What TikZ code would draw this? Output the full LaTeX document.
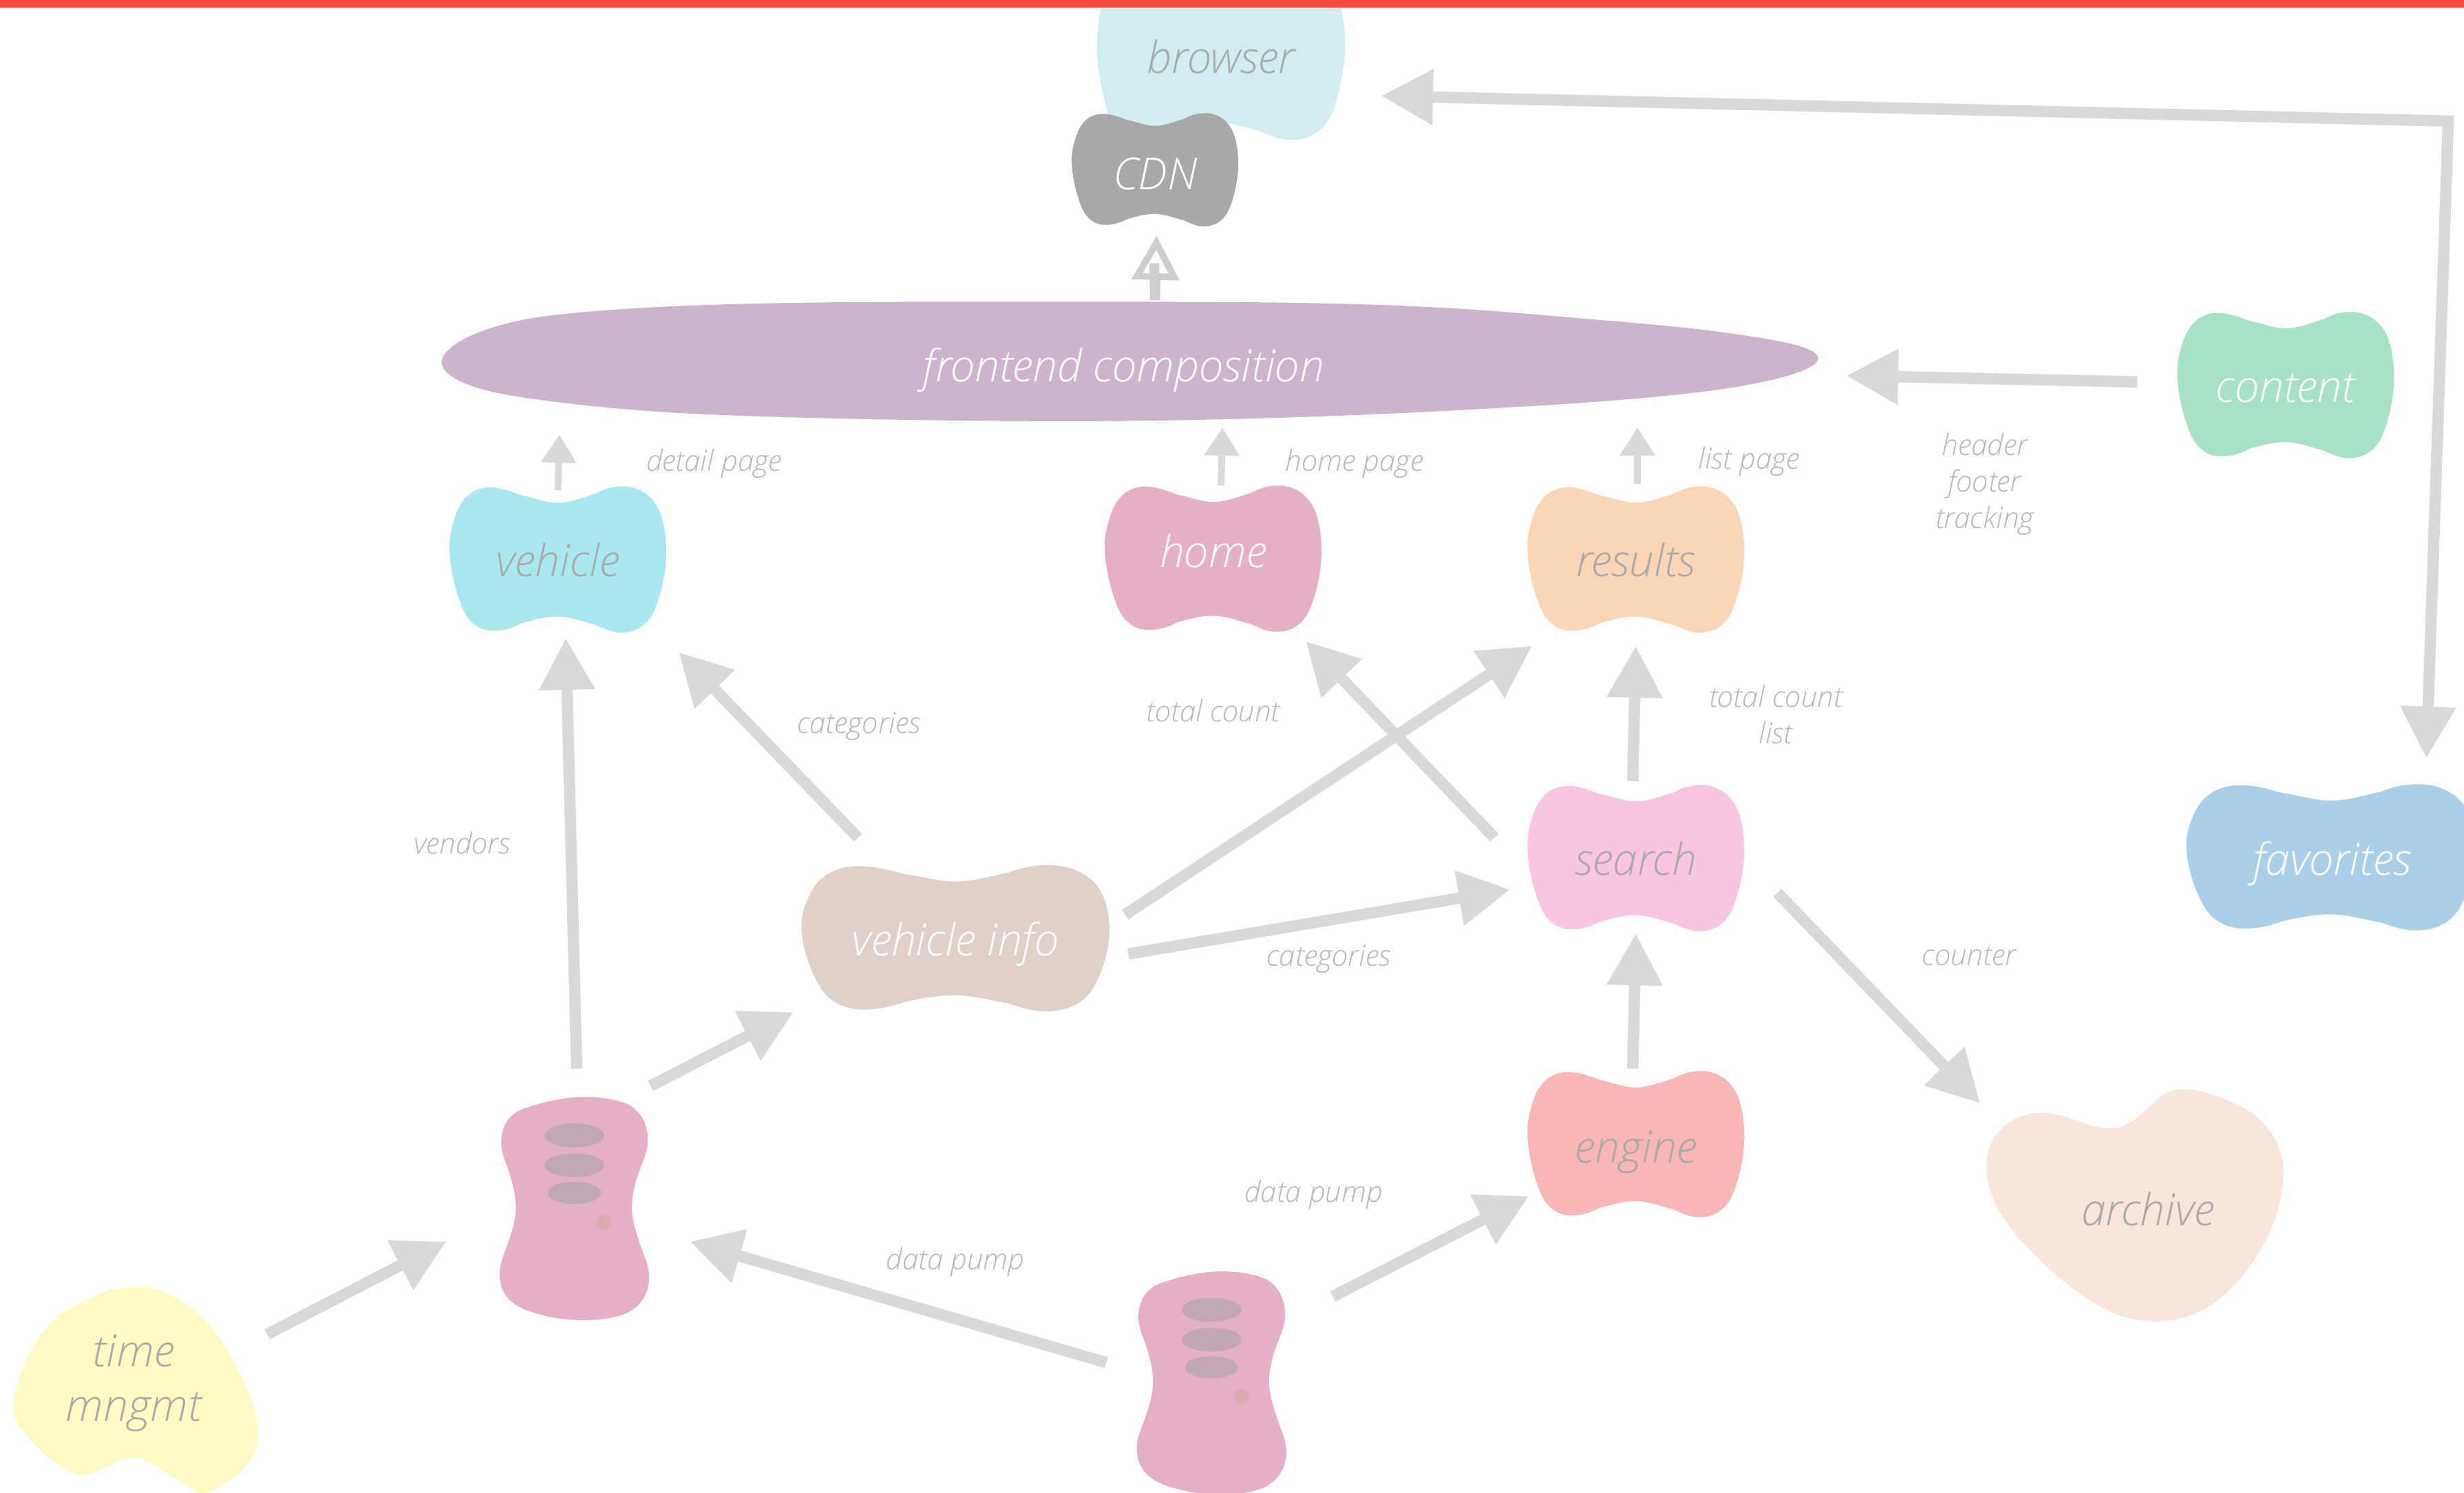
\documentclass[tikz,border=0pt]{standalone}
\usepackage{fontspec}
\usepackage{tikz}
\usetikzlibrary{arrows.meta}
\newfontfamily\thinfont{Open Sans Light Italic}
\definecolor{barred}{HTML}{F44B3E}
\definecolor{arrowgrey}{HTML}{D9D9D9}
\definecolor{sketchgrey}{HTML}{CFCDCD}
\definecolor{labelgrey}{HTML}{B8B8B8}
\definecolor{textgrey}{HTML}{A9A9A9}
\definecolor{browsercol}{HTML}{D2EDF0}
\definecolor{cdncol}{HTML}{A8A8A8}
\definecolor{frontcol}{HTML}{CDB4CD}
\definecolor{vehiclecol}{HTML}{A9E8EF}
\definecolor{homecol}{HTML}{E5AFC5}
\definecolor{resultscol}{HTML}{FAD6B6}
\definecolor{searchcol}{HTML}{F8C6DF}
\definecolor{enginecol}{HTML}{F9B6B6}
\definecolor{contentcol}{HTML}{A8E2C5}
\definecolor{favcol}{HTML}{AACFE9}
\definecolor{infocol}{HTML}{DFD0CA}
\definecolor{archivecol}{HTML}{F8E6DC}
\definecolor{timecol}{HTML}{FDFAC3}
\definecolor{servercol}{HTML}{E5B0C7}
\definecolor{slotcol}{HTML}{C2A8B7}
\definecolor{ledcol}{HTML}{D9ACB0}
\tikzstyle{big arrow}=[draw=arrowgrey,line width=10.3pt,-{Triangle[length=46.8pt,width=48pt]}]
\tikzstyle{both arrow}=[big arrow,{Triangle[length=46.8pt,width=48pt]}-{Triangle[length=46.8pt,width=48pt]}]
\tikzstyle{small arrow}=[draw=arrowgrey,line width=6.2pt,-{Triangle[length=25.5pt,width=30.6pt]}]
\tikzstyle{sketch arrow}=[draw=sketchgrey,line width=9pt,-{Triangle[open,length=40pt,width=42pt,line width=6pt]}]
\tikzstyle{sketch line}=[draw=sketchgrey,line width=9pt]
\tikzstyle{blob}=[font=\thinfont\fontsize{40}{49.6}\selectfont,inner sep=0pt,anchor=base]
\tikzstyle{annot}=[font=\thinfont\fontsize{26.3}{33}\selectfont,text=labelgrey,align=center,inner sep=0pt]
\def\bonepath{(0,-.776) .. controls (.12,-.776) and (.25,-.86) .. (.35,-.90)
    .. controls (.42,-.96) and (.5,-1) .. (.605,-1)
    .. controls (.78,-1) and (.89,-.83) .. (.94,-.656)
    .. controls (.98,-.5) and (1,-.3) .. (1,-.12)
    .. controls (1,.15) and (.96,.42) .. (.91,.62)
    .. controls (.86,.84) and (.76,1) .. (.584,1)
    .. controls (.49,1) and (.42,.94) .. (.34,.89)
    .. controls (.22,.85) and (.12,.78) .. (-.01,.78)
    .. controls (-.12,.78) and (-.23,.83) .. (-.33,.87)
    .. controls (-.41,.93) and (-.49,.975) .. (-.594,.975)
    .. controls (-.76,.975) and (-.85,.8) .. (-.895,.606)
    .. controls (-.95,.4) and (-1,.1) .. (-1,-.18)
    .. controls (-1,-.35) and (-.97,-.5) .. (-.936,-.64)
    .. controls (-.88,-.85) and (-.78,-.987) .. (-.626,-.987)
    .. controls (-.52,-.987) and (-.43,-.93) .. (-.33,-.877)
    .. controls (-.22,-.85) and (-.12,-.776) .. (0,-.776) -- cycle}
\def\serverpath{(.14,-1) .. controls (.35,-1) and (.55,-.98) .. (.72,-.934)
    .. controls (.88,-.88) and (.985,-.76) .. (.985,-.615)
    .. controls (.985,-.52) and (.93,-.44) .. (.877,-.348)
    .. controls (.82,-.25) and (.77,-.12) .. (.77,-.01)
    .. controls (.77,.1) and (.83,.22) .. (.89,.34)
    .. controls (.95,.45) and (1,.52) .. (1,.62)
    .. controls (1,.78) and (.86,.89) .. (.69,.94)
    .. controls (.5,.99) and (.3,1) .. (.11,1)
    .. controls (-.15,1) and (-.4,.97) .. (-.656,.907)
    .. controls (-.86,.85) and (-1,.76) .. (-1,.59)
    .. controls (-1,.49) and (-.95,.42) .. (-.90,.33)
    .. controls (-.84,.22) and (-.785,.1) .. (-.785,-.01)
    .. controls (-.785,-.13) and (-.84,-.26) .. (-.896,-.37)
    .. controls (-.95,-.46) and (-.98,-.52) .. (-.98,-.595)
    .. controls (-.98,-.75) and (-.86,-.85) .. (-.687,-.893)
    .. controls (-.45,-.95) and (-.15,-1) .. (.14,-1) -- cycle}
\begin{document}
\begin{tikzpicture}[x=.05cm,y=-.05cm]
    \clip (0,0) rectangle (1568,949.8);

    % Draw the browser behind the CDN
    \fill[browsercol] (702,0) .. controls (699,10) and (698,20) .. (698,32)
        .. controls (699,50) and (703,65) .. (708,84) -- (770,76)
        .. controls (785,79) and (795,81) .. (803,84)
        .. controls (810,87) and (815,89) .. (823,89)
        .. controls (836,89) and (845,80) .. (849,69)
        .. controls (853,55) and (856,42) .. (856,28)
        .. controls (856,18) and (854,8) .. (852,0) -- cycle;
    \node[blob,text=textgrey] (browser) at (777,46.7) {browser};

    % Draw the frontend composition
    \fill[frontcol] (281,230) .. controls (283,218) and (310,207) .. (341,202)
        .. controls (420,191) and (560,192) .. (680,192)
        .. controls (800,192) and (880,192) .. (964,199)
        .. controls (1010,203) and (1050,206) .. (1081,209.5)
        .. controls (1125,215) and (1157,220) .. (1157,228)
        .. controls (1157,236) and (1125,243) .. (1100,247)
        .. controls (1060,253) and (1000,257) .. (964,259)
        .. controls (880,264) and (780,268) .. (680,268)
        .. controls (600,268) and (480,266) .. (419,262)
        .. controls (390,260) and (360,257) .. (331,252.6)
        .. controls (300,248) and (281,240) .. (281,230) -- cycle;
    \node[blob,text=white] (frontend) at (715,243) {frontend composition};

    % Draw the bone shaped nodes
    \foreach \name/\x/\y/\bw/\bh/\cx/\cy/\col/\tcol/\txt in {
        cdn/735/120.5/53/36/735/108/cdncol/white/CDN,
        vehicle/355/366.6/69/46.5/355/356/vehiclecol/textgrey/vehicle,
        home/772/361/69/46.5/772/355.5/homecol/white/home,
        results/1041/367/69/46.5/1041/356/resultscol/textgrey/results,
        search/1041/557/69/46.5/1041/546/searchcol/textgrey/search,
        engine/1041/740/69/46.5/1041/728/enginecol/textgrey/engine,
        content/1454.5/256/69/46.5/1454.5/245/contentcol/white/content,
        favorites/1484/557/92/46.5/1483.3/545.5/favcol/white/favorites,
        vinfo/608/608/98/46.5/608/597/infocol/white/{vehicle info}} {
        \fill[\col,shift={(\cx,\cy)},xscale=\bw,yscale=\bh] \bonepath;
        \node[blob,text=\tcol,minimum width=\bw*.1cm,minimum height=\bh*.1cm] (\name) at (\x,\y) {\txt};
    }

    % Draw the archive and the time management
    \fill[archivecol] (1389,693) .. controls (1402,693) and (1418,700) .. (1428,705)
        .. controls (1442,713) and (1453,728) .. (1453,745)
        .. controls (1453,760) and (1449,775) .. (1442.5,788)
        .. controls (1427,818) and (1403,841) .. (1372,841)
        .. controls (1350,841) and (1330,830) .. (1307,810)
        .. controls (1285,790) and (1264,768) .. (1264,742)
        .. controls (1264,722) and (1280,708) .. (1299.4,708)
        .. controls (1315,708) and (1328,718) .. (1341.7,718)
        .. controls (1352,718) and (1358,713) .. (1365,707)
        .. controls (1373,699) and (1378,693) .. (1389,693) -- cycle;
    \node[blob,text=textgrey] (archive) at (1367,780) {archive};
    \fill[timecol] plot[smooth cycle,tension=.7] coordinates {(85.4,819) (116.8,829) (146,861.5) (164,917) (134,948.8) (111,940) (86.9,927.6) (65.7,934.4) (54,938.5) (40.9,934.4) (19,915.5) (8.8,892) (24.8,851) (51,829)};
    \node[blob,text=textgrey,anchor=center,align=center] (time) at (85,880) {time\\mngmt};

    % Draw the two servers
    \foreach \name/\cx/\cy in {serverA/365.5/769,serverB/771/880} {
        \fill[servercol,shift={(\cx,\cy)},xscale=47.5,yscale=71] \serverpath;
        \fill[slotcol] (\cx,\cy-46.6) ellipse (19 and 7.6);
        \fill[slotcol] (\cx,\cy-27.6) ellipse (19 and 7.6);
        \fill[slotcol] (\cx,\cy-10) ellipse (17 and 7);
        \fill[ledcol] (\cx+19,\cy+8.5) circle (4.8);
        \node[minimum width=9.5cm,minimum height=14.2cm/2] (\name) at (\cx,\cy) {};
    }

    % Connect the nodes, the offsets are taken from the anchors
    \foreach \from/\fx/\fy/\to/\tx/\ty in {
        content.base/-94.5/-13/frontend.base/460/-4,
        vinfo.base/-62/-75/vehicle.base/77/48.4,
        vinfo.base/108/-26/results.base/-66/44,
        vinfo.base/110/-1/search.base/-80/9,
        search.base/-90/-24/home.base/59/47,
        search.base/-2/-60/results.base/0/44,
        engine.base/-2/-60/search.base/0/37,
        search.base/90/11/archive.base/-107/-78,
        serverA.center/1.5/-89/vehicle.base/5/39.4,
        serverA.center/48.5/-78/vinfo.base/-103/36,
        time.center/85/-31/serverA.center/-81.5/21,
        serverB.center/-67/-13/serverA.center/73.5/21,
        serverB.center/77/-55/engine.base/-68/21}
        \draw[big arrow] ([shift={(\fx,\fy)}]\from) -- ([shift={(\tx,\ty)}]\to);

    \foreach \from/\fx/\fy/\tx/\ty in {
        vehicle/0/-54.6/-359/33.5,
        home/5/-52/63/29,
        results/1/-59/327/29}
        \draw[small arrow] ([shift={(\fx,\fy)}]\from.base) -- ([shift={(\tx,\ty)}]frontend.base);

    \draw[sketch arrow] ([shift={(20,-52)}]frontend.base) -- ([shift={(1,29.5)}]cdn.base);
    \coordinate (sketchTop) at ([shift={(-.5,47)}]cdn.base);
    \draw[sketch line] ([shift={(20,-52)}]frontend.base) -- (sketchTop);

    % The long connection around the corner
    \coordinate (corner) at (1558,77);
    \draw[both arrow] ([shift={(102,14.3)}]browser.base) -- (corner) -- ([shift={(60,-74.5)}]favorites.base);

    % Annotate the connections
    \node[annot] (detailLabel) at (454.5,295) {detail page};
    \node[annot] (homeLabel) at (862,295) {home page};
    \node[annot] (listLabel) at (1113,293.5) {list page};
    \node[annot] (headerLabel) at (1263,308) {header\\footer\\tracking};
    \node[annot] (vehicleCat) at (546.5,462) {categories};
    \node[annot] (homeCount) at (772,452.5) {total count};
    \node[annot] (resultsCount) at (1130,454.5) {total count\\list};
    \node[annot] (vendorLabel) at (294,536.5) {vendors};
    \node[annot] (searchCat) at (845.5,610) {categories};
    \node[annot] (counterLabel) at (1253,608.5) {counter};
    \node[annot] (enginePump) at (836,760) {data pump};
    \node[annot] (serverPump) at (608,803) {data pump};

    % Red bar on top
    \fill[barred] (0,0) rectangle (1568,5);
\end{tikzpicture}
\end{document}
